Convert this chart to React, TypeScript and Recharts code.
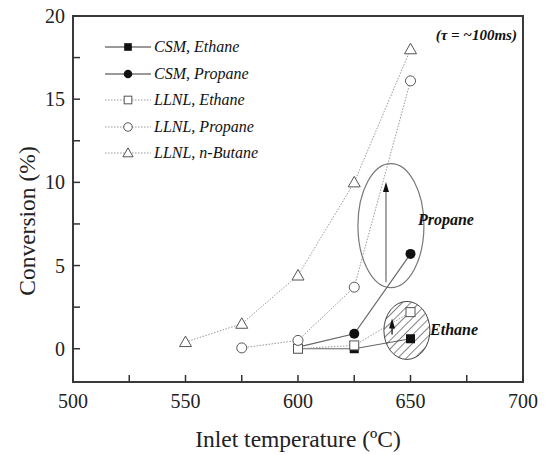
import { LineChart, Line, XAxis, YAxis, Legend, ReferenceArea, ReferenceDot, ReferenceLine } from "recharts";

const csmTemps = [600, 625, 650];
const csmEthane = [0.0, 0.0, 0.6];
const csmPropane = [0.1, 0.9, 5.7];
const llnlEthaneTemps = [600, 625, 650];
const llnlEthane = [0.0, 0.2, 2.2];
const llnlPropaneTemps = [575, 600, 625, 650];
const llnlPropane = [0.05, 0.5, 3.7, 16.1];
const llnlButaneTemps = [550, 575, 600, 625, 650];
const llnlButane = [0.4, 1.5, 4.4, 10.0, 18.0];

const xTicks = [500, 525, 550, 575, 600, 625, 650, 675, 700];
const yTicks = [0, 2.5, 5, 7.5, 10, 12.5, 15, 17.5, 20];

const FONT = "'Liberation Serif', 'Times New Roman', serif";

const pts = (xs: number[], ys: number[]) => xs.map((x, i) => ({ x, y: ys[i] }));

type Kind = "fsq" | "fci" | "osq" | "oci" | "otri";

const series: { name: string; kind: Kind; dotted: boolean; data: { x: number; y: number }[] }[] = [
  { name: "CSM, Ethane", kind: "fsq", dotted: false, data: pts(csmTemps, csmEthane) },
  { name: "CSM, Propane", kind: "fci", dotted: false, data: pts(csmTemps, csmPropane) },
  { name: "LLNL, Ethane", kind: "osq", dotted: true, data: pts(llnlEthaneTemps, llnlEthane) },
  { name: "LLNL, Propane", kind: "oci", dotted: true, data: pts(llnlPropaneTemps, llnlPropane) },
  { name: "LLNL, n-Butane", kind: "otri", dotted: true, data: pts(llnlButaneTemps, llnlButane) },
];

function Marker({ kind, cx, cy, s = 1 }: { kind: Kind; cx: number; cy: number; s?: number }) {
  const h = 4.5 * s;
  switch (kind) {
    case "fsq":
      return <rect x={cx - h} y={cy - h} width={2 * h} height={2 * h} fill="#111" />;
    case "fci":
      return <circle cx={cx} cy={cy} r={5 * s} fill="#111" />;
    case "osq":
      return <rect x={cx - h} y={cy - h} width={2 * h} height={2 * h} fill="#fff" stroke="#555" strokeWidth={1} />;
    case "oci":
      return <circle cx={cx} cy={cy} r={5 * s} fill="#fff" stroke="#555" strokeWidth={1} />;
    default:
      return (
        <polygon
          points={`${cx},${cy - 6 * s} ${cx - 6 * s},${cy + h} ${cx + 6 * s},${cy + h}`}
          fill="#fff"
          stroke="#555"
          strokeWidth={1}
        />
      );
  }
}

const XTick = ({ x, y, payload }: any) => (
  <g>
    <line x1={x} x2={x} y1={y} y2={y - 7} stroke="#333" strokeWidth={1.5} />
    {payload.value % 50 === 0 && (
      <text x={x} y={y + 26} textAnchor="middle" fontSize={20} fontFamily={FONT} fill="#222">
        {payload.value}
      </text>
    )}
  </g>
);

const YTick = ({ x, y, payload }: any) => (
  <g>
    <line x1={x} x2={x + 7} y1={y} y2={y} stroke="#333" strokeWidth={1.5} />
    {payload.value % 5 === 0 && (
      <text x={x - 8} y={y + 7} textAnchor="end" fontSize={20} fontFamily={FONT} fill="#222">
        {payload.value}
      </text>
    )}
  </g>
);

const LegendBox = () => (
  <div style={{ fontFamily: FONT, fontStyle: "italic", fontSize: 16, color: "#111" }}>
    {series.map((s) => (
      <div key={s.name} style={{ display: "flex", alignItems: "center", height: 26.5 }}>
        <svg width={46} height={14}>
          <line
            x1={0}
            x2={46}
            y1={7}
            y2={7}
            stroke={s.dotted ? "#999" : "#777"}
            strokeWidth={s.dotted ? 1 : 1.5}
            strokeDasharray={s.dotted ? "1.5 1.5" : undefined}
          />
          <Marker kind={s.kind} cx={23} cy={7} s={0.85} />
        </svg>
        <span style={{ marginLeft: 3 }}>{s.name}</span>
      </div>
    ))}
  </div>
);

const arrowHead = ({ cx, cy }: any) => (
  <polygon points={`${cx},${cy - 2} ${cx - 3},${cy + 8} ${cx + 3},${cy + 8}`} fill="#111" />
);

const hatchedEllipse = ({ cx, cy }: any) => (
  <g>
    <defs>
      <pattern id="hatch" width={6} height={6} patternUnits="userSpaceOnUse" patternTransform="rotate(45)">
        <line x1={0} y1={0} x2={0} y2={6} stroke="#333" strokeWidth={1.2} />
      </pattern>
    </defs>
    <ellipse cx={cx} cy={cy} rx={23} ry={29} fill="url(#hatch)" stroke="#444" strokeWidth={1} />
  </g>
);

const textShape = (label: string, size: number, anchor: "start" | "end") => ({ cx, cy }: any) => (
  <text
    x={cx}
    y={cy + size * 0.35}
    textAnchor={anchor}
    fontFamily={FONT}
    fontStyle="italic"
    fontWeight="bold"
    fontSize={size}
    fill="#111"
  >
    {label}
  </text>
);

export default function App() {
  return (
    <div style={{ position: "absolute", left: 0, top: 0 }}>
      <LineChart width={549} height={455} margin={{ top: 16, right: 26, left: 0, bottom: 0 }}>
        <XAxis
          dataKey="x"
          type="number"
          domain={[500, 700]}
          ticks={xTicks}
          interval={0}
          axisLine={false}
          tickLine={false}
          tickSize={0}
          tickMargin={0}
          height={73}
          tick={XTick}
          label={({ viewBox }: any) => (
            <text
              x={viewBox.x + viewBox.width / 2}
              y={viewBox.y + 65}
              textAnchor="middle"
              fontSize={23.5}
              fontFamily={FONT}
              fill="#222"
            >
              Inlet temperature (ºC)
            </text>
          )}
        />
        <YAxis
          dataKey="y"
          type="number"
          domain={[-2, 20]}
          ticks={yTicks}
          interval={0}
          axisLine={false}
          tickLine={false}
          tickSize={0}
          tickMargin={0}
          width={73}
          tick={YTick}
          label={({ viewBox }: any) => {
            const cx = viewBox.x + 35;
            const cy = viewBox.y + viewBox.height / 2 + 22;
            return (
              <text
                x={cx}
                y={cy}
                transform={`rotate(-90 ${cx} ${cy})`}
                textAnchor="middle"
                fontSize={23.5}
                fontFamily={FONT}
                fill="#222"
              >
                Conversion (%)
              </text>
            );
          }}
        />
        <ReferenceArea x1={500} x2={700} y1={-2} y2={20} fill="none" stroke="#3a3a3a" strokeWidth={2} />
        <ReferenceDot x={641.3} y={7.4} r={1} shape={({ cx, cy }: any) => (
          <ellipse cx={cx} cy={cy} rx={33} ry={62} fill="none" stroke="#777" strokeWidth={1.2} />
        )} />
        <ReferenceDot x={648.4} y={1.1} r={1} shape={hatchedEllipse} />
        <ReferenceLine segment={[{ x: 639.1, y: 4.0 }, { x: 639.1, y: 9.6 }]} stroke="#888" strokeWidth={1.5} />
        <ReferenceDot x={639.1} y={9.9} r={1} shape={arrowHead} />
        <ReferenceLine segment={[{ x: 641.8, y: 0.85 }, { x: 641.8, y: 1.5 }]} stroke="#333" strokeWidth={1.5} />
        <ReferenceDot x={641.8} y={1.7} r={1} shape={arrowHead} />
        <ReferenceDot x={653.3} y={7.8} r={1} shape={textShape("Propane", 16, "start")} />
        <ReferenceDot x={658.7} y={1.15} r={1} shape={textShape("Ethane", 16, "start")} />
        <ReferenceDot x={697.3} y={18.85} r={1} shape={textShape("(τ = ~100ms)", 15, "end")} />
        {series.map((s) => (
          <Line
            key={s.name}
            data={s.data}
            dataKey="y"
            name={s.name}
            type="linear"
            stroke={s.dotted ? "#999" : "#666"}
            strokeWidth={s.dotted ? 1 : 1.2}
            strokeDasharray={s.dotted ? "1.5 1.5" : undefined}
            dot={(p: any) => <Marker key={`${s.name}-${p.index}`} kind={s.kind} cx={p.cx} cy={p.cy} />}
            activeDot={false}
            isAnimationActive={false}
          />
        ))}
        <Legend
          layout="vertical"
          align="center"
          verticalAlign="middle"
          wrapperStyle={{ top: 34, left: 105, width: "auto" }}
          content={LegendBox}
        />
      </LineChart>
    </div>
  );
}
